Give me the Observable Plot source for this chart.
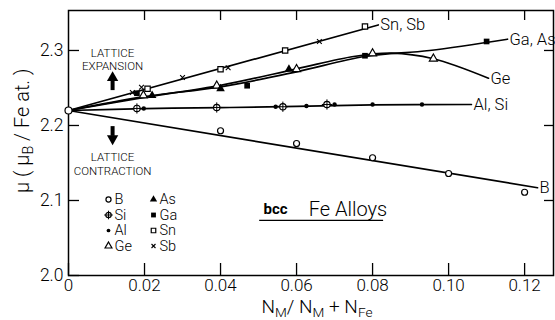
<!DOCTYPE html>
<html><head><meta charset="utf-8">
<script src="https://cdn.jsdelivr.net/npm/d3@7"></script>
<script src="https://cdn.jsdelivr.net/npm/@observablehq/plot@0.6"></script>
<style>body{margin:0;background:#fff} svg{display:block}</style>
</head><body><div id="chart"></div>
<script>
// ---- axis ticks ----
const xTicks = [0, 0.02, 0.04, 0.06, 0.08, 0.10, 0.12];
const xTickLabels = ["0", "0.02", "0.04", "0.06", "0.08", "0.10", "0.12"];
const yTicks = [2.0, 2.1, 2.2, 2.3];
const yTickLabels = ["2.0", "2.1", "2.2", "2.3"];

// ---- measured points ----
const feX = [0], feY = [2.22];
const bX = [0.040, 0.060, 0.080, 0.100, 0.120];
const bY = [2.193, 2.176, 2.157, 2.136, 2.111];
const siX = [0.018, 0.039, 0.0564, 0.068];
const siY = [2.2227, 2.224, 2.225, 2.228];
const alX = [0.0198, 0.0545, 0.0626, 0.070, 0.080, 0.093];
const alY = [2.2227, 2.225, 2.226, 2.228, 2.228, 2.228];
const geX = [0.0197, 0.039, 0.060, 0.080, 0.096];
const geY = [2.240, 2.253, 2.275, 2.296, 2.289];
const asX = [0.022, 0.040, 0.058];
const asY = [2.240, 2.249, 2.275];
const gaX = [0.018, 0.047, 0.078, 0.110];
const gaY = [2.243, 2.253, 2.293, 2.312];
const snX = [0.0208, 0.040, 0.057, 0.078];
const snY = [2.249, 2.275, 2.300, 2.332];
const sbX = [0.0168, 0.0192, 0.030, 0.042, 0.066];
const sbY = [2.244, 2.251, 2.264, 2.277, 2.312];

// ---- drawn trend curves ----
const snSbLineX = [0, 0.0815];
const snSbLineY = [2.22, 2.334];
const gaAsLineX = [0, 0.02, 0.04, 0.06, 0.078, 0.095, 0.1155];
const gaAsLineY = [2.22, 2.2385, 2.2515, 2.2715, 2.292, 2.300, 2.315];
const geLineX = [0, 0.02, 0.04, 0.06, 0.075, 0.085, 0.096, 0.1105];
const geLineY = [2.22, 2.2375, 2.2535, 2.2755, 2.292, 2.2965, 2.289, 2.263];
const alSiLineX = [0, 0.02, 0.04, 0.06, 0.08, 0.106];
const alSiLineY = [2.22, 2.2225, 2.2238, 2.2255, 2.2275, 2.228];
const bLineX = [0, 0.1234];
const bLineY = [2.22, 2.117];
const lineNames = ["Sn, Sb", "Ga, As", "Ge", "Al, Si", "B"];

// ---- legend ----
const legendNames = ["B", "Si", "Al", "Ge", "As", "Ga", "Sn", "Sb"];

// ---- annotation text ----
const expansionText = ["LATTICE", "EXPANSION"];
const contractionText = ["LATTICE", "CONTRACTION"];

const pts = (xs, ys) => xs.map((x, i) => ({x, y: ys[i]}));
const FONT = "Roboto, Lato, sans-serif";
const LIGHT = 300;
const W = 555, H = 320, ML = 68, MR = 2, MT = 10, MB = 45;
const FW = W - ML - MR, FH = H - MT - MB;

const lines = [
  pts(snSbLineX, snSbLineY), pts(gaAsLineX, gaAsLineY), pts(geLineX, geLineY),
  pts(alSiLineX, alSiLineY), pts(bLineX, bLineY)
];
const lineEnds = lines.map((l, i) => ({...l[l.length - 1], name: lineNames[i]}));

const open = {fill: "white", stroke: "black", strokeWidth: 1.2};
const solid = {fill: "black", stroke: "none"};

const sym = {
  B: [{symbol: "circle", r: 3, ...open}],
  Si: [{symbol: "circle", r: 3.2, ...open}, {symbol: "plus", r: 3.4, stroke: "black", strokeWidth: 1}],
  Al: [{symbol: "circle", r: 2.2, ...solid}],
  Ge: [{symbol: "triangle", r: 3.0, ...open}],
  As: [{symbol: "triangle", r: 3.2, ...solid}],
  Ga: [{symbol: "square", r: 3.2, ...solid}],
  Sn: [{symbol: "square", r: 3.0, ...open}],
  Sb: [{symbol: "times", r: 2.3, stroke: "black", strokeWidth: 1.1}]
};
const series = {
  B: pts(bX, bY), Si: pts(siX, siY), Al: pts(alX, alY), Ge: pts(geX, geY),
  As: pts(asX, asY), Ga: pts(gaX, gaY), Sn: pts(snX, snY), Sb: pts(sbX, sbY)
};

const legendMarks = legendNames.flatMap((name, i) => {
  const col = Math.floor(i / 4), row = i % 4;
  const dx = 40 + col * 45, dy = 189 + row * 15.5;
  const s = sym[name].map(st => Plot.dot([name], {frameAnchor: "top-left", dx, dy, ...st,
    r: st.r * 0.85}));
  return [...s, Plot.text([name], {frameAnchor: "top-left", dx: dx + 6, dy, text: d => d,
    textAnchor: "start", lineAnchor: "middle", fontSize: 14.5, fontWeight: LIGHT})];
});

const plot = Plot.plot({
  width: W, height: H,
  marginLeft: ML, marginRight: MR, marginTop: MT, marginBottom: MB,
  style: {fontFamily: FONT, background: "white", color: "black"},
  x: {domain: [0, 0.1276], axis: null},
  y: {domain: [2.0, 2.3533], axis: null},
  marks: [
    Plot.frame({stroke: "black", strokeWidth: 1.5}),
    // inward ticks
    Plot.tickX(xTicks, {x: d => d, insetTop: FH - 12, strokeWidth: 1.3}),
    Plot.tickX(xTicks.slice(1), {x: d => d, insetBottom: FH - 10, strokeWidth: 1.3}),
    Plot.tickY(yTicks, {y: d => d, insetRight: FW - 11, strokeWidth: 1.3}),
    Plot.tickY(yTicks.slice(1), {y: d => d, insetLeft: FW - 9, strokeWidth: 1.3}),
    // tick labels
    Plot.text(xTicks, {x: d => d, text: (d, i) => xTickLabels[i], frameAnchor: "bottom", dy: 10,
      lineAnchor: "middle", fontSize: 17, fontWeight: LIGHT}),
    Plot.text(yTicks, {y: d => d, text: (d, i) => yTickLabels[i], frameAnchor: "left", dx: -5,
      textAnchor: "end", lineAnchor: "middle", fontSize: 17.5, fontWeight: LIGHT}),
    // axis titles
    Plot.text(["N_M / N_M + N_Fe"], {frameAnchor: "bottom", dx: 6, dy: 31.5, lineAnchor: "middle",
      fontSize: 19, fontWeight: LIGHT}),
    Plot.text(["mu (muB / Fe at.)"], {frameAnchor: "left", dx: -46, dy: 50, rotate: -90,
      lineAnchor: "middle", fontSize: 20, fontWeight: LIGHT}),
    // trend curves
    ...lines.map(l => Plot.line(l, {x: "x", y: "y", curve: "catmull-rom", stroke: "black", strokeWidth: 1.7})),
    Plot.text(lineEnds, {x: "x", y: "y", text: "name", dx: 2,
      textAnchor: "start", lineAnchor: "middle", fontSize: 16.5, fontWeight: LIGHT}),
    // data points
    ...legendNames.flatMap(name => sym[name].map(st => Plot.dot(series[name], {x: "x", y: "y", ...st}))),
    Plot.dot(pts(feX, feY), {x: "x", y: "y", symbol: "circle", r: 3.5, ...open}),
    // lattice annotations
    Plot.text(expansionText, {x: 0.0116, y: (d, i) => [2.2965, 2.2785][i], text: d => d,
      lineAnchor: "middle", fontSize: 11.5, fontWeight: LIGHT}),
    Plot.text(contractionText, {x: 0.0116, y: (d, i) => [2.157, 2.139][i], text: d => d,
      lineAnchor: "middle", fontSize: 11.5, fontWeight: LIGHT}),
    Plot.ruleX([0.0116], {y1: 2.2465, y2: 2.2605, strokeWidth: 4}),
    Plot.dot([0.0116], {x: d => d, y: 2.2635, symbol: "triangle", r: 4.2, fill: "black"}),
    Plot.ruleX([0.0116], {y1: 2.1985, y2: 2.1855, strokeWidth: 4}),
    Plot.dot([0.0116], {x: d => d, y: 2.1825, symbol: "triangle", r: 4.2, fill: "black", rotate: 180}),
    // title box
    Plot.text(["bcc"], {x: 0.0513, y: 2.0885, text: d => d, textAnchor: "start", lineAnchor: "middle",
      fontSize: 15, fontWeight: 700}),
    Plot.text(["Fe Alloys"], {x: 0.0632, y: 2.0885, text: d => d, textAnchor: "start", lineAnchor: "middle",
      fontSize: 20, fontWeight: LIGHT}),
    Plot.ruleY([2.0735], {x1: 0.0503, x2: 0.0829, strokeWidth: 1.2}),
    ...legendMarks
  ]
});

// rich text (subscripts) for axis titles
function rich(svg, plain, parts) {
  d3.select(svg).selectAll("text").filter(function () { return this.textContent === plain; })
    .each(function () {
      const t = d3.select(this);
      t.text(null);
      parts.forEach(([s, sub]) => {
        const ts = t.append("tspan").text(s);
        if (sub) ts.attr("baseline-shift", "-28%").attr("font-size", "72%");
      });
    });
}
rich(plot, "N_M / N_M + N_Fe", [["N"], ["M", 1], ["/ N"], ["M", 1], [" + N"], ["Fe", 1]]);
rich(plot, "mu (muB / Fe at.)", [["\u03bc ( \u03bc"], ["B", 1], [" / Fe at. )"]]);

document.getElementById("chart").appendChild(plot);
</script>
</body></html>
